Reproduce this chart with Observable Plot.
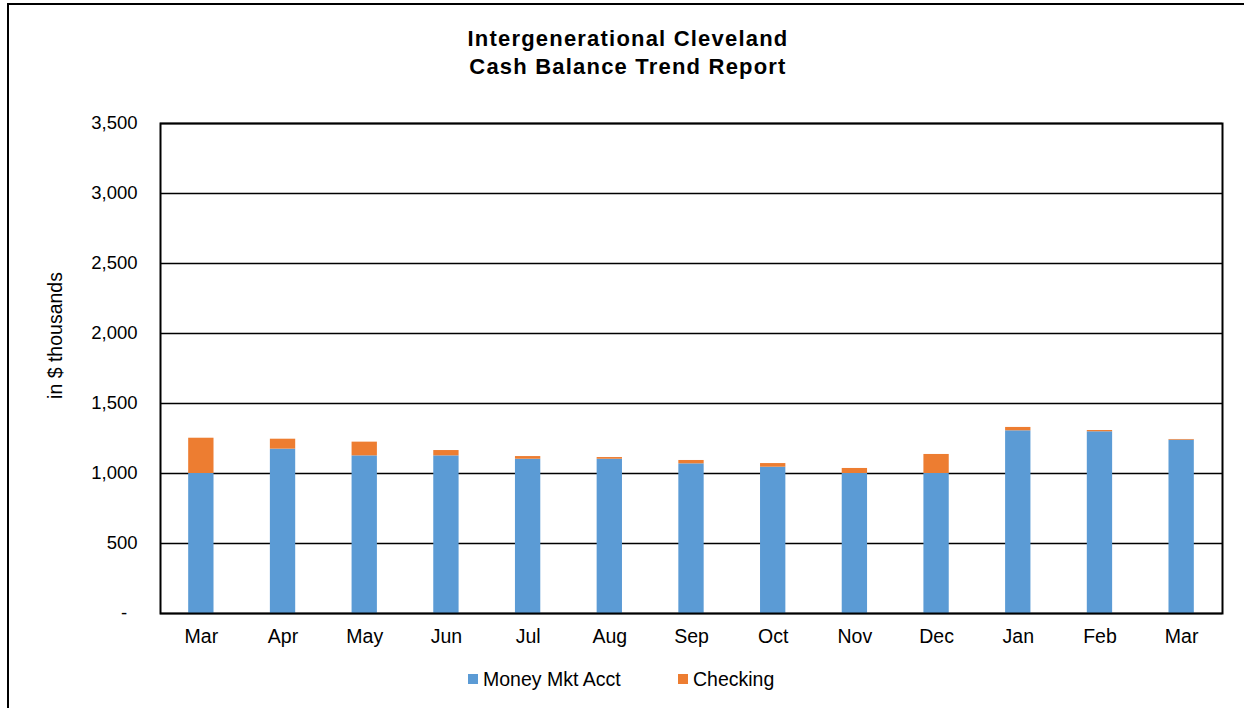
<!DOCTYPE html>
<html>
<head>
<meta charset="utf-8">
<script src="https://cdn.jsdelivr.net/npm/d3@7"></script>
<script src="https://cdn.jsdelivr.net/npm/@observablehq/plot@0.6"></script>
<style>
  html, body { margin: 0; padding: 0; background: #fff; }
  body { width: 1244px; height: 708px; position: relative; overflow: hidden; font-family: "Liberation Sans", Arial, sans-serif; }
  #border { position: absolute; left: 7px; top: 3px; width: 1250px; height: 720px; border: 2px solid #000; box-sizing: border-box; }
  #title { position: absolute; left: 0; width: 1256px; top: 25px; text-align: center; font-weight: bold; font-size: 22px; letter-spacing: 1.2px; line-height: 28px; color: #000; }
  #chart { position: absolute; left: 0; top: 0; }
  #legend { position: absolute; top: 668px; left: 0; width: 1244px; font-size: 19.5px; color: #000; }
  .item { position: absolute; top: 0; display: flex; align-items: center; height: 22px; }
  .sw { width: 10px; height: 10px; margin-right: 5px; }
</style>
</head>
<body>
<div id="border"></div>
<div id="chart"></div>
<div id="title">Intergenerational Cleveland<br>Cash Balance Trend Report</div>
<div id="legend"></div>
<script>
const months = ["Mar","Apr","May","Jun","Jul","Aug","Sep","Oct","Nov","Dec","Jan","Feb","Mar"];
const moneyMkt = [1000, 1174, 1126, 1126, 1102, 1102, 1069, 1045, 1000, 1000, 1305, 1298, 1238];
const checking = [252, 71, 98, 38, 19, 12, 24, 26, 36, 136, 24, 9, 5];
const seriesNames = ["Money Mkt Acct", "Checking"];
const seriesColors = ["#5B9BD5", "#ED7D31"];
const yTicks = [0, 500, 1000, 1500, 2000, 2500, 3000, 3500];

const data = [];
months.forEach((m, i) => {
  data.push({idx: String(i), series: seriesNames[0], value: moneyMkt[i]});
  data.push({idx: String(i), series: seriesNames[1], value: checking[i]});
});

const yFmt = d => d === 0 ? "-\u00a0\u00a0" : d3.format(",")(d);

const chart = Plot.plot({
  width: 1244,
  height: 708,
  marginTop: 123,
  marginBottom: 95,
  marginLeft: 160,
  marginRight: 22,
  style: {fontFamily: "'Liberation Sans', Arial, sans-serif", fontSize: "18px", color: "#000", background: "transparent"},
  x: {
    domain: months.map((m, i) => String(i)),
    paddingInner: 0.69,
    paddingOuter: 0.345,
    round: false,
    label: null,
    tickSize: 0,
    tickFormat: d => months[+d]
  },
  y: {
    domain: [0, 3500],
    ticks: yTicks,
    tickSize: 0,
    tickFormat: yFmt,
    label: null
  },
  color: {domain: seriesNames, range: seriesColors},
  marks: [
    Plot.gridY(yTicks, {stroke: "#000", strokeOpacity: 1, strokeWidth: 1.5}),
    Plot.barY(data, {x: "idx", y: "value", fill: "series", order: seriesNames}),
    Plot.axisY({ticks: yTicks, tickSize: 0, tickPadding: 23, tickFormat: yFmt, label: null, fontSize: 18.5}),
    Plot.axisX({tickSize: 0, tickPadding: 16, tickFormat: d => months[+d], label: null, fontSize: 19.5}),
    Plot.text(["in $ thousands"], {frameAnchor: "left", dx: -105, dy: -33, rotate: -90, textAnchor: "middle", fontSize: 19.5, fill: "#000"}),
    Plot.frame({stroke: "#000", strokeWidth: 2})
  ]
});
document.getElementById("chart").appendChild(chart);

const legend = document.getElementById("legend");
const positions = [468, 678];
seriesNames.forEach((name, i) => {
  const it = document.createElement("div");
  it.className = "item";
  it.style.left = positions[i] + "px";
  const sw = document.createElement("div");
  sw.className = "sw";
  sw.style.background = seriesColors[i];
  it.appendChild(sw);
  it.appendChild(document.createTextNode(name));
  legend.appendChild(it);
});
</script>
</body>
</html>
